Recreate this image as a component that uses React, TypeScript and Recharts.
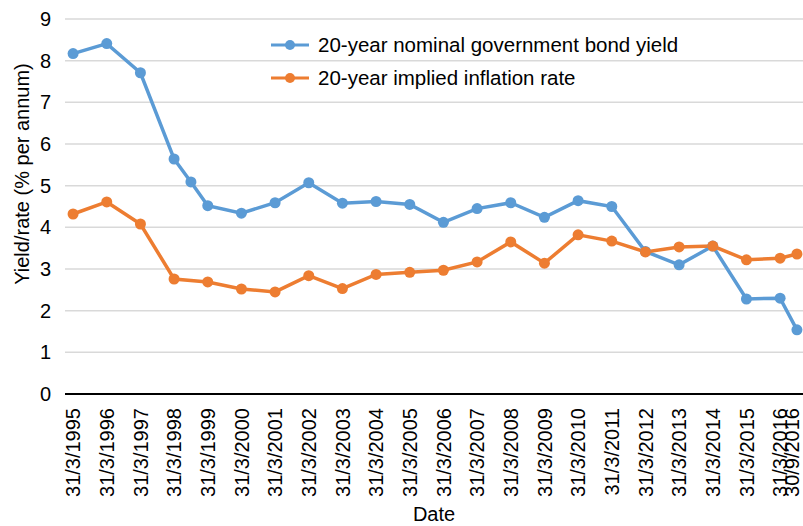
import { LineChart, Line, XAxis, YAxis, CartesianGrid, Label } from 'recharts'

// dates as decimal years: 31/3 -> .25, 30/9 -> .75
const dates = [
  1995.25, 1996.25, 1997.25, 1998.25, 1998.75, 1999.25, 2000.25, 2001.25, 2002.25, 2003.25,
  2004.25, 2005.25, 2006.25, 2007.25, 2008.25, 2009.25, 2010.25, 2011.25, 2012.25, 2013.25,
  2014.25, 2015.25, 2016.25, 2016.75,
]

const nominalYield = [
  8.17, 8.41, 7.71, 5.64, 5.09, 4.52, 4.34, 4.59, 5.07, 4.58,
  4.62, 4.55, 4.12, 4.45, 4.59, 4.24, 4.64, 4.5, 3.42, 3.1,
  3.55, 2.28, 2.3, 1.54,
]

const inflationRate = [
  4.32, 4.61, 4.08, 2.76, null, 2.69, 2.52, 2.45, 2.84, 2.53,
  2.87, 2.92, 2.97, 3.17, 3.65, 3.14, 3.82, 3.67, 3.41, 3.53,
  3.55, 3.22, 3.26, 3.36,
]

const tickDates = [
  1995.25, 1996.25, 1997.25, 1998.25, 1999.25, 2000.25, 2001.25, 2002.25, 2003.25, 2004.25,
  2005.25, 2006.25, 2007.25, 2008.25, 2009.25, 2010.25, 2011.25, 2012.25, 2013.25, 2014.25,
  2015.25, 2016.25, 2016.75,
]
const tickLabels = [
  '31/3/1995', '31/3/1996', '31/3/1997', '31/3/1998', '31/3/1999', '31/3/2000', '31/3/2001',
  '31/3/2002', '31/3/2003', '31/3/2004', '31/3/2005', '31/3/2006', '31/3/2007', '31/3/2008',
  '31/3/2009', '31/3/2010', '31/3/2011', '31/3/2012', '31/3/2013', '31/3/2014', '31/3/2015',
  '31/3/2016', '30/9/2016',
]

const yTicks = [0, 1, 2, 3, 4, 5, 6, 7, 8, 9]

const BLUE = '#5b9bd5'
const ORANGE = '#ed7d31'
const FONT = "'Liberation Sans', Arial, sans-serif"

const data = dates.map((t, i) => ({ t, nominal: nominalYield[i], inflation: inflationRate[i] }))

const series = [
  { key: 'nominal', label: '20-year nominal government bond yield', color: BLUE },
  { key: 'inflation', label: '20-year implied inflation rate', color: ORANGE },
]

function DateTick({ x, y, payload }: any) {
  const idx = tickDates.indexOf(payload.value)
  const label = idx >= 0 ? tickLabels[idx] : ''
  // last label squeezed against the right edge, like the original
  const shift = idx === tickLabels.length - 1 ? -5 : 0
  return (
    <g transform={`translate(${x + shift},${y})`}>
      <text x={-6} y={0} dy="0.36em" textAnchor="end" transform="rotate(-90)"
        fill="#000" fontSize={20} fontFamily={FONT}>{label}</text>
    </g>
  )
}

export default function App() {
  return (
    <div style={{ position: 'absolute', top: 0, left: 0, width: 803, height: 526, background: '#fff' }}>
      <LineChart width={803} height={526} data={data} margin={{ top: 19, right: 0, left: 0, bottom: 0 }}>
        <CartesianGrid vertical={false} stroke="#d9d9d9" strokeWidth={1.5} />
        <XAxis
          dataKey="t"
          type="number"
          scale="linear"
          domain={[1995.01, 2016.93]}
          ticks={tickDates}
          interval={0}
          tick={<DateTick />}
          tickLine={false}
          axisLine={{ stroke: '#000', strokeWidth: 2 }}
          height={132}
          allowDataOverflow
        >
          <Label
            content={() => (
              <text x={434} y={514} textAnchor="middle" dominantBaseline="central"
                fontSize={20} fontFamily={FONT} fill="#000">Date</text>
            )}
          />
        </XAxis>
        <YAxis
          domain={[0, 9]}
          ticks={yTicks}
          width={65}
          tickLine={false}
          axisLine={false}
          tickMargin={8}
          tick={{ fontSize: 20, fontFamily: FONT, fill: '#000' }}
        >
          <Label
            content={() => (
              <text x={22} y={174} textAnchor="middle" dominantBaseline="central"
                transform="rotate(-90, 22, 174)" fontSize={20} fontFamily={FONT} fill="#000">
                Yield/rate (% per annum)
              </text>
            )}
          />
        </YAxis>
        {series.map(s => (
          <Line
            key={s.key}
            type="linear"
            dataKey={s.key}
            name={s.label}
            stroke={s.color}
            strokeWidth={3.5}
            dot={{ fill: s.color, stroke: s.color, strokeWidth: 0, r: 5.5 }}
            activeDot={false}
            connectNulls
            isAnimationActive={false}
          />
        ))}
      </LineChart>
      <div style={{ position: 'absolute', top: 28, left: 270, fontFamily: FONT, fontSize: 20.5, color: '#000' }}>
        {series.map(s => (
          <div key={s.key} style={{ display: 'flex', alignItems: 'center', height: 33 }}>
            <svg width={40} height={12} style={{ marginRight: 8 }}>
              <line x1={1} y1={6} x2={39} y2={6} stroke={s.color} strokeWidth={3} />
              <circle cx={20} cy={6} r={5} fill={s.color} />
            </svg>
            <span>{s.label}</span>
          </div>
        ))}
      </div>
    </div>
  )
}
